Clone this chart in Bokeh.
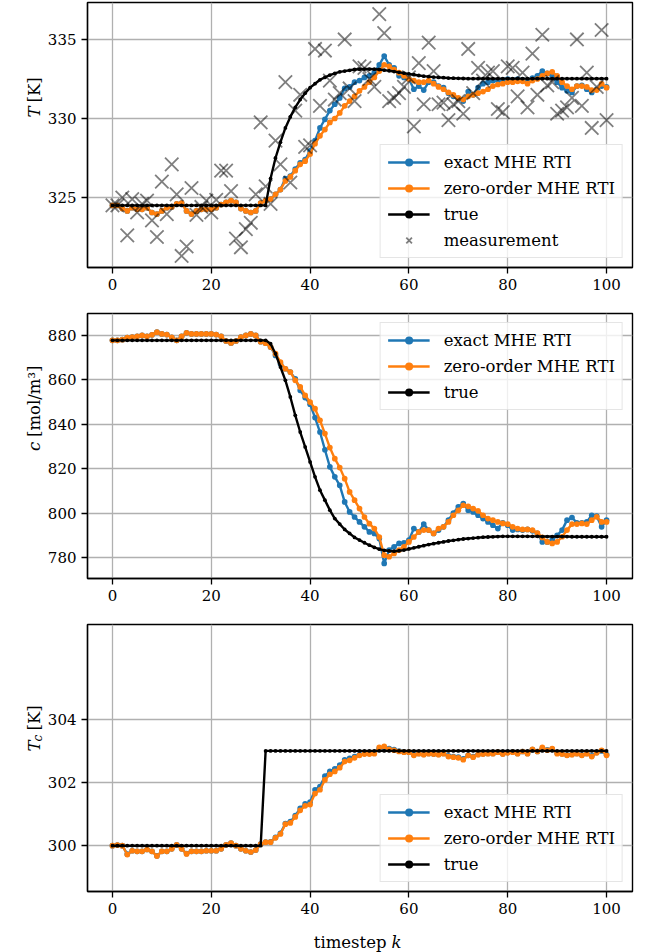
import math
from bokeh.plotting import figure
from bokeh.models import Range1d, FixedTicker, Legend, LegendItem, Label
from bokeh.layouts import column, row
from bokeh.embed import file_html
from bokeh.resources import INLINE

FONT = "DejaVu Serif"

k = list(range(101))
x_ticks = [0, 20, 40, 60, 80, 100]
T_ticks = [325, 330, 335]
c_ticks = [780, 800, 820, 840, 860, 880]
Tc_ticks = [300, 302, 304]
labels = ["exact MHE RTI", "zero-order MHE RTI", "true", "measurement"]

T_exact = [
    324.5, 324.5, 324.3, 324.15, 324.35, 324.25, 324.25, 324.35, 324.05, 323.95,
    324.15, 324.35, 324.4, 324.6, 324.65, 324.15, 323.95, 324.15, 324.25, 324.25,
    324.25, 324.35, 324.55, 324.7, 324.8, 324.7, 324.3, 324.15, 324.05, 324.15,
    324.65, 324.8, 324.9, 325.2, 325.5, 326.2, 326.35, 326.8, 327.2, 327.4,
    327.95, 328.6, 329.4, 329.95, 330.5, 330.9, 331.3, 331.9, 332.0, 332.3,
    332.4, 332.6, 332.7, 332.9, 333.4, 333.95, 333.4, 333.2, 332.7, 332.6,
    332.5, 331.85, 332.05, 331.8, 332.3, 332.3, 332.05, 331.95, 331.6, 331.4,
    331.25, 331.1, 331.7, 331.5, 331.95, 332.2, 332.3, 332.4, 332.4, 332.45,
    332.5, 332.45, 332.5, 332.45, 332.4, 332.55, 332.7, 333.0, 332.85, 332.7,
    332.3, 331.95, 331.75, 331.65, 332.05, 332.1, 331.85, 331.65, 331.85, 332.05,
    332.0]
T_zero = [
    324.5, 324.5, 324.3, 324.15, 324.35, 324.25, 324.25, 324.35, 324.05, 323.95,
    324.15, 324.35, 324.4, 324.6, 324.65, 324.15, 323.95, 324.15, 324.25, 324.25,
    324.25, 324.35, 324.55, 324.7, 324.8, 324.7, 324.3, 324.15, 324.05, 324.15,
    324.65, 324.8, 324.9, 325.2, 325.5, 326.05, 326.3, 326.7, 327.1, 327.3,
    327.75, 328.4, 328.9, 329.3, 329.75, 330.0, 330.35, 330.8, 331.1, 331.4,
    331.75, 332.0, 332.3, 332.6, 333.0, 333.4, 333.3, 333.1, 332.9, 332.7,
    332.5, 332.4, 332.3, 332.3, 332.4, 332.2, 332.0, 331.85, 331.65, 331.5,
    331.3, 331.2, 331.4, 331.5, 331.6, 331.7, 331.85, 332.05, 332.15, 332.2,
    332.3, 332.3, 332.35, 332.35, 332.2, 332.4, 332.5, 332.7, 332.85, 332.95,
    332.7, 332.3, 332.05, 331.85, 332.05, 332.05, 332.0, 331.8, 331.8, 332.2,
    331.95]
T_true = [324.5] * 32 + [
    326.2, 327.5, 328.5, 329.4, 330.1, 330.7, 331.2, 331.6, 331.95, 332.2,
    332.45, 332.6, 332.75, 332.85, 332.95, 333.0, 333.05, 333.1, 333.12, 333.13,
    333.13, 333.12, 333.1, 333.06, 333.02, 332.97, 332.92, 332.87, 332.82, 332.77,
    332.72, 332.68, 332.65, 332.62, 332.6, 332.58, 332.56, 332.55, 332.54, 332.53,
] + [332.52] * 29
T_meas = [
    324.5, 324.5, 325.0, 322.6, 324.9, 324.05, 324.6, 324.8, 323.55, 322.5,
    326.0, 323.95, 327.1, 325.2, 321.3, 321.9, 325.6, 323.9, 324.4, 324.8,
    324.05, 324.85, 326.7, 326.7, 325.4, 322.4, 321.85, 323.0, 323.4, 325.2,
    329.75, 325.7, 324.6, 328.6, 327.1, 332.3, 325.95, 330.5, 331.5, 328.2,
    328.3, 334.4, 330.8, 334.3, 332.4, 331.2, 331.6, 335.0, 331.9, 331.1,
    333.3, 333.2, 332.5, 332.0, 336.6, 335.4, 331.1, 331.3, 331.6, 332.0,
    332.6, 329.5, 333.5, 330.9, 334.8, 333.0, 330.9, 331.0, 329.9, 330.9,
    331.1, 330.3, 334.4, 331.6, 333.2, 332.4, 332.9, 333.0, 330.6, 330.4,
    333.3, 333.2, 331.4, 332.9, 330.7, 334.1, 331.5, 335.3, 332.1, 332.3,
    330.3, 330.5, 330.7, 331.3, 335.0, 330.8, 332.9, 329.4, 332.0, 335.6,
    329.9]

c_exact = [
    877.8, 877.8, 878.1, 879.0, 879.3, 879.6, 880.0, 879.6, 880.3, 881.5,
    880.7, 880.4, 879.2, 877.8, 879.6, 881.2, 880.7, 880.7, 880.7, 880.7,
    880.7, 880.4, 879.6, 877.5, 876.6, 877.5, 879.3, 880.0, 880.7, 880.0,
    877.2, 876.5, 874.8, 871.0, 867.3, 865.0, 863.5, 860.5, 855.3, 852.0,
    849.0, 843.0, 836.5, 828.5, 820.8, 816.3, 812.5, 805.0, 800.5, 798.2,
    796.0, 793.8, 791.5, 790.8, 788.5, 777.3, 783.3, 784.8, 786.3, 786.6,
    787.8, 793.0, 791.5, 795.0, 792.3, 790.8, 792.3, 793.8, 796.8, 800.0,
    802.8, 804.3, 801.3, 800.5, 799.0, 797.5, 796.0, 794.5, 793.0, 795.6,
    794.5, 792.3, 792.6, 792.3, 792.6, 792.0, 790.8, 787.0, 787.0, 787.8,
    790.0, 792.3, 796.8, 798.0, 795.6, 795.6, 796.0, 799.0, 798.6, 793.8,
    796.8]
c_zero = [
    877.8, 877.8, 878.1, 879.0, 879.3, 879.6, 880.0, 879.6, 880.3, 881.5,
    880.7, 880.4, 879.2, 877.8, 879.6, 881.2, 880.7, 880.7, 880.7, 880.7,
    880.7, 880.4, 879.6, 877.5, 876.6, 877.5, 879.3, 880.0, 880.7, 880.0,
    877.2, 876.5, 874.8, 871.8, 868.0, 865.0, 863.5, 859.8, 856.8, 853.0,
    850.0, 847.0, 841.8, 835.8, 829.5, 824.5, 820.5, 815.5, 809.5, 805.8,
    802.0, 798.2, 795.2, 793.0, 789.2, 781.0, 780.3, 781.8, 783.3, 784.8,
    787.0, 789.2, 791.5, 792.3, 792.3, 790.8, 793.0, 793.8, 796.0, 799.0,
    801.2, 803.5, 803.0, 802.0, 801.0, 799.0, 797.5, 796.8, 796.0, 795.3,
    795.0, 793.8, 793.0, 792.6, 792.6, 792.3, 791.0, 789.0, 787.0, 786.3,
    787.0, 789.3, 792.3, 795.0, 795.0, 795.3, 795.0, 796.8, 798.3, 796.0,
    796.0]
c_true = [877.8] * 32 + [
    876.3, 871.8, 865.8, 859.8, 852.3, 844.0, 836.5, 829.8, 823.0, 816.3,
    810.3, 805.8, 801.3, 797.5, 795.0, 792.6, 790.8, 789.0, 787.8, 786.6,
    785.5, 784.5, 783.7, 783.2, 782.9, 782.8, 783.0, 783.3, 783.8, 784.3,
    784.8, 785.3, 785.8, 786.2, 786.6, 787.0, 787.4, 787.7, 788.0, 788.3,
    788.5, 788.7, 788.9, 789.1, 789.2, 789.3, 789.4, 789.5, 789.5, 789.5,
] + [789.5] * 5 + [789.4] * 6 + [789.3] * 8

Tc_exact = [
    300.0, 300.02, 300.0, 299.73, 299.84, 299.82, 299.82, 299.88, 299.82, 299.68,
    299.82, 299.82, 299.9, 300.03, 299.9, 299.75, 299.82, 299.82, 299.82, 299.84,
    299.84, 299.84, 299.9, 300.03, 300.08, 300.0, 299.9, 299.84, 299.8, 299.86,
    300.05, 300.11, 300.12, 300.26, 300.39, 300.7, 300.76, 300.95, 301.18, 301.32,
    301.38, 301.77, 301.87, 302.2, 302.35, 302.43, 302.55, 302.72, 302.76, 302.82,
    302.88, 302.92, 302.93, 302.95, 303.08, 303.1, 303.07, 303.04, 302.99, 302.97,
    302.96, 302.88, 302.92, 302.89, 302.92, 302.9, 302.89, 302.92, 302.84, 302.82,
    302.8, 302.75, 302.86, 302.82, 302.89, 302.91, 302.92, 302.92, 302.96, 302.91,
    302.95, 302.97, 302.92, 302.98, 302.92, 303.04, 302.98, 303.08, 303.03, 303.06,
    302.93, 302.91, 302.87, 302.89, 302.92, 302.87, 302.92, 302.84, 302.95, 303.0,
    302.88]
Tc_zero = [
    300.0, 300.02, 300.0, 299.72, 299.84, 299.82, 299.82, 299.88, 299.82, 299.67,
    299.82, 299.82, 299.9, 300.03, 299.9, 299.74, 299.82, 299.82, 299.82, 299.84,
    299.84, 299.84, 299.9, 300.03, 300.08, 300.0, 299.9, 299.84, 299.8, 299.86,
    300.05, 300.11, 300.11, 300.25, 300.37, 300.68, 300.72, 300.91, 301.12, 301.26,
    301.3, 301.65, 301.77, 302.08, 302.26, 302.35, 302.47, 302.66, 302.7, 302.78,
    302.86, 302.9, 302.9, 302.91, 303.11, 303.14, 303.05, 303.02, 302.98, 302.96,
    302.96, 302.86, 302.91, 302.88, 302.91, 302.9, 302.88, 302.91, 302.82, 302.8,
    302.78, 302.72, 302.86, 302.8, 302.88, 302.9, 302.91, 302.91, 302.96, 302.9,
    302.94, 302.96, 302.91, 302.98, 302.91, 303.05, 302.98, 303.11, 303.02, 303.07,
    302.91, 302.9, 302.86, 302.88, 302.91, 302.86, 302.91, 302.82, 302.94, 303.02,
    302.86]
Tc_true = [300.0] * 31 + [303.0] * 70

BLUE = "#1f77b4"
ORANGE = "#ff7f0e"
LAB_W = 44
MAIN_W = 601


def make_fig(height, yr, yticks, btop, bbottom):
    p = figure(width=MAIN_W, height=height, x_range=Range1d(-5.05, 105.25),
               y_range=Range1d(*yr), output_backend="svg", toolbar_location=None,
               min_border_left=42, min_border_right=13, min_border_top=btop,
               min_border_bottom=bbottom)
    p.xaxis.ticker = FixedTicker(ticks=x_ticks)
    p.yaxis.ticker = FixedTicker(ticks=yticks)
    for ax in (p.xaxis[0], p.yaxis[0]):
        ax.major_label_text_font = FONT
        ax.major_label_text_font_size = "15px"
        ax.major_label_text_color = "black"
        ax.minor_tick_line_color = None
        ax.major_tick_in = 0
        ax.major_tick_out = 6
        ax.major_tick_line_color = "black"
        ax.major_tick_line_width = 1.3
        ax.axis_line_color = "black"
        ax.axis_line_width = 1.3
        ax.major_label_standoff = 5
    for g in (p.xgrid[0], p.ygrid[0]):
        g.grid_line_color = "#b0b0b0"
        g.grid_line_width = 1.3
    p.outline_line_color = "black"
    p.outline_line_width = 1.4
    p.outline_line_alpha = 1.0
    p.background_fill_color = "white"
    p.border_fill_color = "white"
    return p


def blank_fig(width, height):
    f = figure(width=width, height=height, x_axis_type=None, y_axis_type=None,
               x_range=Range1d(0, 1), y_range=Range1d(0, 1), output_backend="svg",
               toolbar_location=None, min_border=0)
    f.outline_line_color = None
    f.background_fill_color = "white"
    f.border_fill_color = "white"
    return f


def add_series(p, y, color, size, lw):
    rl = p.line(k, y, line_color=color, line_width=lw)
    rs = p.scatter(k, y, marker="circle", size=size, fill_color=color, line_color=None)
    return [rl, rs]


def add_legend(p, items, location):
    lg = Legend(items=[LegendItem(label=lab, renderers=rs) for lab, rs in items],
                location=location)
    lg.label_text_font = FONT
    lg.label_text_font_size = "16.5px"
    lg.label_text_color = "black"
    lg.glyph_width = 42
    lg.glyph_height = 20
    lg.label_height = 20
    lg.label_standoff = 14
    lg.spacing = 6
    lg.padding = 7
    lg.margin = 9
    lg.border_line_color = "#cccccc"
    lg.border_line_width = 1.2
    lg.background_fill_color = "white"
    lg.background_fill_alpha = 0.8
    p.add_layout(lg)


def ylabel_fig(height, ycenter, parts, x=34):
    f = blank_fig(LAB_W, height)
    total = sum(pt[4] for pt in parts)
    y = ycenter - total / 2
    for text, style, size, dx, w in parts:
        f.add_layout(Label(x=x + dx, y=y, x_units="screen", y_units="screen",
                           text=text, angle=math.pi / 2, text_font=FONT,
                           text_font_style=style, text_font_size=size,
                           text_color="black", text_baseline="alphabetic",
                           text_align="left"))
        y += w
    return f


# Panel 1: T
p1 = make_fig(305, (320.57, 337.34), T_ticks, 2, 38)
e1 = add_series(p1, T_exact, BLUE, 5.7, 2.4)
z1 = add_series(p1, T_zero, ORANGE, 5.7, 2.4)
t1 = add_series(p1, T_true, "black", 3.8, 2.4)
m1 = p1.scatter(k, T_meas, marker="x", size=19, line_color="black", line_alpha=0.5,
                line_width=1.8)
add_legend(p1, [(labels[0], e1), (labels[1], z1), (labels[2], t1), (labels[3], [m1])],
           "bottom_right")
l1 = ylabel_fig(305, 38 + 265 / 2,
                [("T", "italic", "16.5px", 0, 15), ("[K]", "normal", "16.5px", 0, 26)])

# Panel 2: c
p2 = make_fig(311, (770.5, 889.9), c_ticks, 8, 38)
e2 = add_series(p2, c_exact, BLUE, 5.7, 2.4)
z2 = add_series(p2, c_zero, ORANGE, 5.7, 2.4)
t2 = add_series(p2, c_true, "black", 3.8, 2.4)
add_legend(p2, [(labels[0], e2), (labels[1], z2), (labels[2], t2)], "top_right")
l2 = ylabel_fig(311, 38 + 265 / 2,
                [("c", "italic", "16.5px", 0, 14), ("[mol/m³]", "normal", "16.5px", 0, 72)])

# Panel 3: Tc
p3 = make_fig(305, (298.55, 307.0), Tc_ticks, 8, 30)
e3 = add_series(p3, Tc_exact, BLUE, 5.7, 2.4)
z3 = add_series(p3, Tc_zero, ORANGE, 5.7, 2.4)
t3 = add_series(p3, Tc_true, "black", 3.8, 2.4)
add_legend(p3, [(labels[0], e3), (labels[1], z3), (labels[2], t3)], "bottom_right")
l3 = ylabel_fig(305, 30 + 267 / 2,
                [("T", "italic", "16.5px", 0, 10), ("c", "italic", "12px", 3, 11),
                 ("[K]", "normal", "16.5px", 0, 26)])

# x-axis label below the last panel
xl = blank_fig(LAB_W + MAIN_W, 31)
xl.add_layout(Label(x=386, y=10, x_units="screen", y_units="screen", text="timestep",
                    text_font=FONT, text_font_size="16.5px", text_color="black",
                    text_align="right", text_baseline="alphabetic"))
xl.add_layout(Label(x=391, y=10, x_units="screen", y_units="screen", text="k",
                    text_font=FONT, text_font_style="italic", text_font_size="16.5px",
                    text_color="black", text_align="left", text_baseline="alphabetic"))

layout = column(row(l1, p1, spacing=0), row(l2, p2, spacing=0),
                row(l3, p3, spacing=0), xl, spacing=0)
open("out.html", "w").write(file_html(layout, INLINE))
